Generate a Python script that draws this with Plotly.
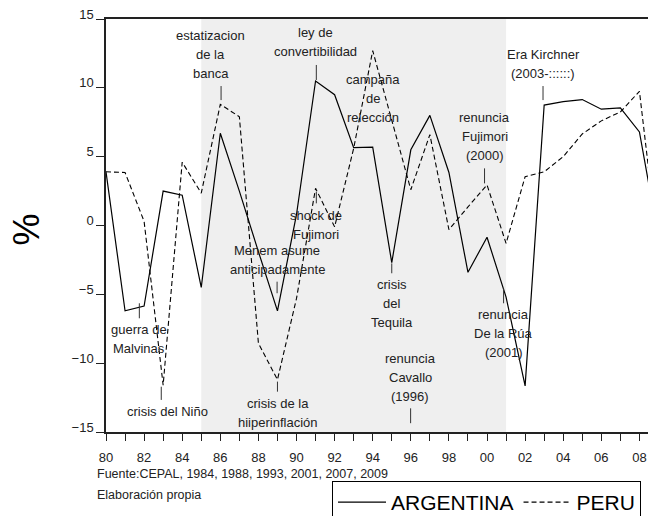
import plotly.graph_objects as go

# ---------------- data ----------------
YEARS = list(range(1980, 2010))
ARGENTINA = [3.9, -6.2, -5.85, 2.5, 2.2, -4.5, 6.7, 2.5, -1.9, -6.2,
             0.8, 10.5, 9.5, 5.65, 5.7, -2.7, 5.5, 8.0, 3.85, -3.4,
             -0.85, -5.2, -11.65, 8.75, 9.0, 9.15, 8.45, 8.55, 6.8, -0.9]
PERU = [3.9, 3.85, 0.3, -11.6, 4.6, 2.35, 8.8, 7.9, -8.55, -11.2,
        -5.3, 2.7, -0.1, 5.6, 12.7, 7.7, 2.6, 6.6, -0.3, 1.35,
        2.95, -1.3, 3.55, 3.9, 5.0, 6.65, 7.6, 8.25, 9.75, -2.0]

XTICK_YEARS = list(range(1980, 2009))
XTICK_LABELS = [f"{y % 100:02d}" if y % 2 == 0 else "" for y in XTICK_YEARS]
YTICK_VALUES = [-15, -10, -5, 0, 5, 10, 15]

SHADE_START, SHADE_END = 1985, 2001

# event annotations: text lines, anchor (year, value of first line), marker tick
EVENT_LINES = [
    ["estatizacion", "de la", "banca"],
    ["ley de", "convertibilidad"],
    ["campaña", "de", "relección"],
    ["renuncia", "Fujimori", "(2000)"],
    ["Era Kirchner", "(2003-::::::)"],
    ["shock de", "Fujimori"],
    ["Menem asume", "anticipadamente"],
    ["guerra de", "Malvinas"],
    ["crisis del Niño"],
    ["crisis de la", "hiiperinflación"],
    ["crisis", "del", "Tequila"],
    ["renuncia", "Cavallo", "(1996)"],
    ["renuncia", "De la Rúa", "(2001)"],
]
EVENT_X = [1985.49, 1991.0, 1994.04, 1999.88, 2002.95, 1991.02, 1988.98,
           1981.74, 1983.24, 1989.02, 1994.99, 1995.98, 2000.87]
EVENT_Y = [13.78, 14.03, 10.64, 7.86, 12.43, 0.76, -1.78,
           -7.59, -13.52, -12.91, -4.25, -9.64, -6.5]
MARK_X = [1986.04, 1991.04, None, 1999.87, 2002.94, 1991.04, 1988.98,
          1981.75, 1982.9, 1989.0, 1995.0, 1995.99, 2000.87]
MARK_Y0 = [10.13, 11.66, None, 4.15, 10.13, 2.45, -4.08,
           -5.65, -11.71, -11.34, -2.75, -13.28, -4.56]
MARK_Y1 = [9.11, 10.57, None, 3.06, 9.11, 1.61, -4.92,
           -6.74, -12.67, -12.07, -3.47, -14.36, -5.65]

SOURCE_TEXT = "Fuente:CEPAL, 1984, 1988, 1993, 2001, 2007, 2009"
CREDIT_TEXT = "Elaboración propia"

# ---------------- style ----------------
NARROW = "Liberation Sans Narrow, Arial Narrow, Liberation Sans, Arial, sans-serif"
REGULAR = "Liberation Sans, Arial, sans-serif"
TEXT_COLOR = "#222222"
LINE_SPACING = 19

fig = go.Figure()
fig.add_trace(go.Scatter(x=YEARS, y=ARGENTINA, mode="lines", name="ARGENTINA",
                         line=dict(color="black", width=1.2)))
fig.add_trace(go.Scatter(x=YEARS, y=PERU, mode="lines", name="PERU",
                         line=dict(color="black", width=1.1, dash="5px,3px")))

fig.add_shape(type="rect", xref="x", yref="paper", x0=SHADE_START, x1=SHADE_END,
              y0=0, y1=1, fillcolor="#efefef", line=dict(width=0), layer="below")

annotations = []
for lines, ex, ey in zip(EVENT_LINES, EVENT_X, EVENT_Y):
    for i, t in enumerate(lines):
        annotations.append(dict(x=ex, y=ey, xref="x", yref="y", text=t,
                                showarrow=False, xanchor="center", yanchor="middle",
                                yshift=-LINE_SPACING * i,
                                font=dict(family=NARROW, size=13, color=TEXT_COLOR)))
for mx, y0, y1 in zip(MARK_X, MARK_Y0, MARK_Y1):
    if mx is None:
        continue
    fig.add_shape(type="line", xref="x", yref="y", x0=mx, x1=mx, y0=y0, y1=y1,
                  line=dict(color="#333333", width=1))

annotations.append(dict(x=-0.0203, y=-0.1012, xref="paper", yref="paper",
                        text=SOURCE_TEXT, showarrow=False, xanchor="left",
                        yanchor="middle", font=dict(family=NARROW, size=12.5, color=TEXT_COLOR)))
annotations.append(dict(x=-0.0203, y=-0.152, xref="paper", yref="paper",
                        text=CREDIT_TEXT, showarrow=False, xanchor="left",
                        yanchor="middle", font=dict(family=NARROW, size=12.5, color=TEXT_COLOR)))
annotations.append(dict(x=-0.146, y=0.49, xref="paper", yref="paper", text="%",
                        showarrow=False, textangle=-90, xanchor="center", yanchor="middle",
                        font=dict(family=REGULAR, size=36, color="black")))

fig.update_layout(
    width=648, height=516,
    margin=dict(l=106, r=0, t=19, b=84, autoexpand=False),
    paper_bgcolor="white", plot_bgcolor="white",
    annotations=annotations,
    showlegend=True,
    legend=dict(orientation="h", x=0.417, y=-0.1186, xanchor="left", yanchor="top",
                bordercolor="black", borderwidth=1, bgcolor="white",
                itemwidth=48,
                font=dict(family=REGULAR, size=21, color="black")),
    xaxis=dict(range=[1980, 2008.45], tickmode="array", tickvals=XTICK_YEARS,
               ticktext=XTICK_LABELS, ticks="outside", ticklen=7, tickcolor="#222",
               showline=True, linecolor="#222", linewidth=1.5, mirror=True,
               showgrid=False, zeroline=False, ticklabelstandoff=6,
               tickfont=dict(family=NARROW, size=13, color=TEXT_COLOR)),
    yaxis=dict(range=[-15, 15], tickmode="array", tickvals=YTICK_VALUES,
               ticks="outside", ticklen=8, tickcolor="#222",
               showline=True, linecolor="#222", linewidth=1.5, mirror=False,
               showgrid=False, zeroline=False, ticklabelshift=-5,
               tickfont=dict(family=NARROW, size=13, color=TEXT_COLOR)),
)

fig.write_html("out.html", config={"displayModeBar": False},
               post_script="document.body.style.margin='0px';document.body.style.overflow='hidden';")
